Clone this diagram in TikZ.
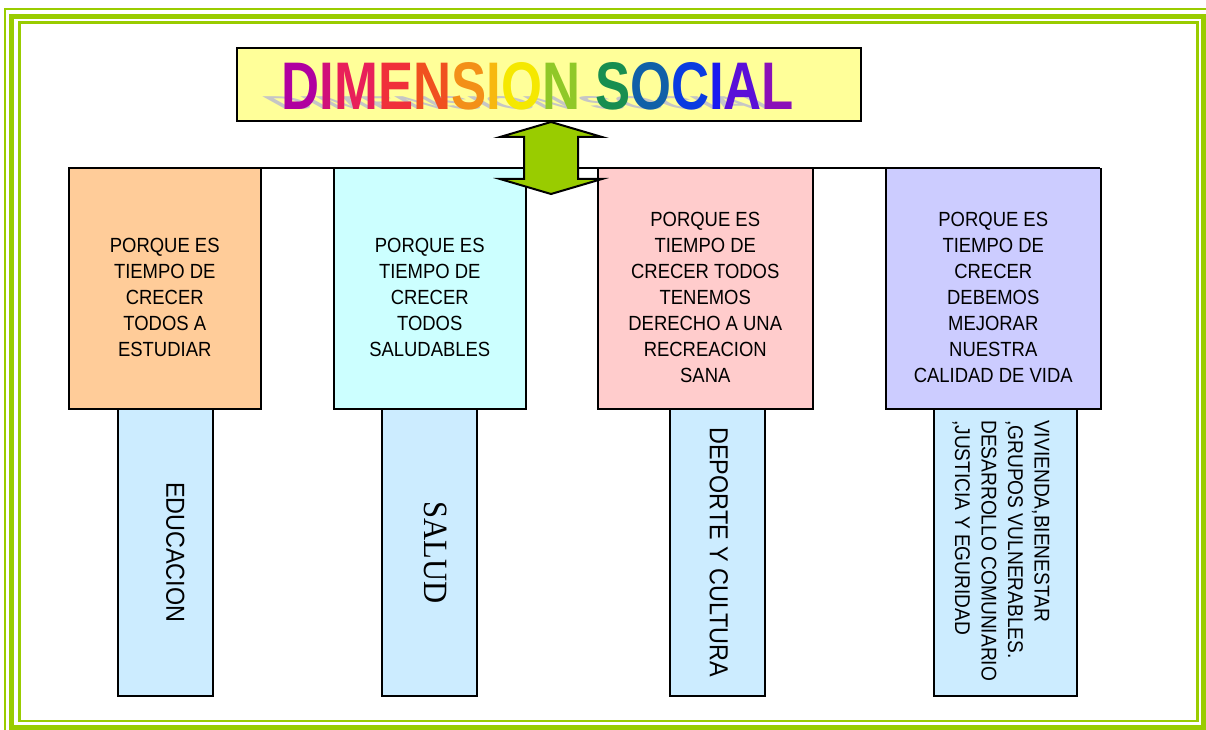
\documentclass[tikz,border=0pt]{standalone}
\usepackage{fontspec}
\usepackage{graphicx}
\setmainfont{Liberation Sans}
\newfontfamily\tahfont{Liberation Sans}[FakeStretch=0.9]
\newfontfamily\serfont{Liberation Serif}[FakeStretch=0.9]

\definecolor{verde}{HTML}{99CC00}
\definecolor{amarillo}{HTML}{FFFF99}
\definecolor{naranja}{HTML}{FFCC99}
\definecolor{celeste}{HTML}{CCFFFF}
\definecolor{rosa}{HTML}{FFCCCC}
\definecolor{lila}{HTML}{CCCCFF}
\definecolor{azulito}{HTML}{CCECFF}

\newcommand{\titulotexto}{\bfseries
  \textcolor[HTML]{B000A0}{D}\textcolor[HTML]{D0107A}{I}\textcolor[HTML]{E8205A}{M}%
  \textcolor[HTML]{F0303A}{E}\textcolor[HTML]{F05020}{N}\textcolor[HTML]{F39018}{S}%
  \textcolor[HTML]{F7B810}{I}\textcolor[HTML]{F5E800}{O}\textcolor[HTML]{90C828}{N} %
  \textcolor[HTML]{188E50}{S}\textcolor[HTML]{1060A8}{O}\textcolor[HTML]{0A3CE0}{C}%
  \textcolor[HTML]{1A1AF0}{I}\textcolor[HTML]{5A10D8}{A}\textcolor[HTML]{8A10B8}{L}}

\begin{document}
\begin{tikzpicture}[x=1pt,y=-1pt,
    caja/.style={draw, line width=1.5pt, inner sep=0pt, anchor=north west, minimum height=240pt},
    pata/.style={draw, line width=1.5pt, inner sep=0pt, anchor=north west, fill=azulito, minimum height=287pt},
    txt/.style={align=center, inner sep=0pt, font=\tahfont\fontsize{20.5}{26}\selectfont},
    vert/.style={rotate=-90, inner sep=0pt, font=\tahfont\fontsize{26}{30}\selectfont}]
    \useasboundingbox (0,0) rectangle (1206,730);

    % marco
    \begin{scope}
        \clip (0,0) rectangle (1206,730);
        \draw[verde, line width=2pt](5,9) rectangle (1215,740);
        \draw[verde, line width=5pt](11.5,16.5) rectangle (1203.5,727.5);
        \draw[verde, line width=2.5pt](19.5,22.5) rectangle (1197.5,721);
    \end{scope}

    % titulo
    \node[draw, line width=2pt, fill=amarillo, anchor=north west, minimum width=624pt, minimum height=73pt](titulo) at (236,47) {};
    \begin{scope}[shift={(538,110)}, xslant=-1.8]
        \node[transform shape, anchor=base, inner sep=0pt, text=gray!45](sombra) at (0,0) {\resizebox{512pt}{13pt}{\bfseries DIMENSION SOCIAL}};
    \end{scope}
    \node[anchor=base, inner sep=0pt](dimension) at (538,110) {\resizebox{512pt}{47pt}{\titulotexto}};

    % cajas de arriba
    \draw[line width=1.5pt](68,168)--(1100,168);
    \node[caja, fill=naranja, minimum width=192pt](b1) at (68,168) {};
    \node[caja, fill=celeste, minimum width=192pt](b2) at (333,168) {};
    \node[caja, fill=rosa, minimum width=215pt](b3) at (597,168) {};
    \node[caja, fill=lila, minimum width=215pt](b4) at (885,168) {};
    \node[txt](t1) at ([yshift=-9pt]b1.center) {PORQUE ES\\TIEMPO DE\\CRECER\\TODOS A\\ESTUDIAR};
    \node[txt](t2) at ([yshift=-9pt]b2.center) {PORQUE ES\\TIEMPO DE\\CRECER\\TODOS\\SALUDABLES};
    \node[txt](t3) at ([yshift=-9pt]b3.center) {PORQUE ES\\TIEMPO DE\\CRECER TODOS\\TENEMOS\\DERECHO A UNA\\RECREACION\\SANA};
    \node[txt](t4) at ([yshift=-9pt]b4.center) {PORQUE ES\\TIEMPO DE\\CRECER\\DEBEMOS\\MEJORAR\\NUESTRA\\CALIDAD DE VIDA};

    % cajas de abajo
    \node[pata, minimum width=95pt](p1) at (117,408) {};
    \node[pata, minimum width=95pt](p2) at (381,408) {};
    \node[pata, minimum width=95pt](p3) at (669,408) {};
    \node[pata, minimum width=143pt](p4) at (933,408) {};
    \node[vert](educacion) at ([xshift=10pt]p1.center) {EDUCACION};
    \node[vert, font=\serfont\fontsize{34}{36}\selectfont](salud) at ([xshift=6.5pt]p2.center) {SALUD};
    \node[vert](deporte) at ([xshift=1.5pt]p3.center) {DEPORTE Y CULTURA};
    \node[vert, anchor=west, align=left, font=\tahfont\fontsize{21.3}{26.5}\selectfont](vivienda) at (1001,420)
        {VIVIENDA,BIENESTAR\\,GRUPOS VULNERABLES.\\DESARROLLO COMUNIARIO\\,JUSTICIA Y EGURIDAD};

    % flecha doble
    \coordinate (punta) at (titulo.south -| 551,0);
    \draw[line width=2pt, line join=miter, fill=verde](punta)--++(51,15)--++(-24,0)--++(0,42)--++(24,0)
        --++(-51,15)--++(-51,-15)--++(24,0)--++(0,-42)--++(-24,0)--cycle;
\end{tikzpicture}
\end{document}
